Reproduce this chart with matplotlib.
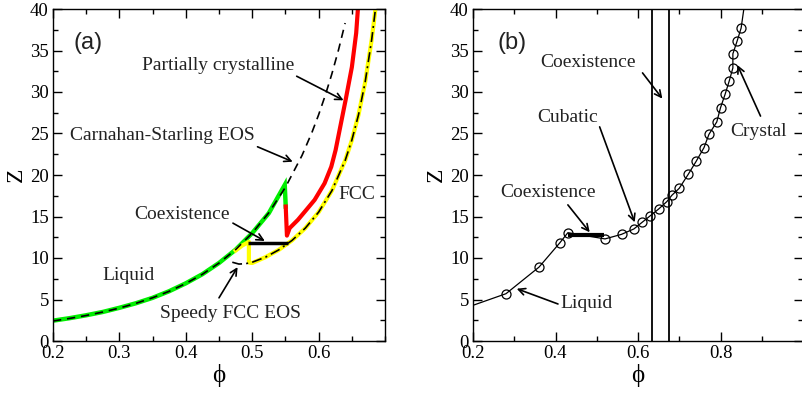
import matplotlib
matplotlib.use("Agg")
import numpy as np
import matplotlib.pyplot as plt
from matplotlib.ticker import MultipleLocator

# ---- panel (a) data ----
# Carnahan-Starling EOS (dashed)
cs_phi = [0.2, 0.225, 0.25, 0.275, 0.3, 0.325, 0.35, 0.375, 0.4, 0.425, 0.45, 0.475,
          0.5, 0.525, 0.55, 0.575, 0.59, 0.6, 0.61, 0.62, 0.63, 0.64]
cs_z = [2.41, 2.72, 3.07, 3.49, 3.97, 4.54, 5.21, 5.99, 6.93, 8.04, 9.39, 11.01,
        13.0, 15.45, 18.51, 22.35, 25.14, 27.25, 29.59, 32.19, 35.08, 38.31]

# simulated liquid branch (green)
liq_phi = [0.2, 0.225, 0.25, 0.275, 0.3, 0.325, 0.35, 0.375, 0.4, 0.425, 0.45, 0.475,
           0.5, 0.525, 0.549, 0.5505]
liq_z = [2.45, 2.75, 3.1, 3.5, 4.0, 4.55, 5.2, 6.0, 6.95, 8.05, 9.4, 11.0,
         13.0, 15.4, 18.8, 16.2]

# partially crystalline branch (red)
part_phi = [0.5505, 0.5523, 0.5564, 0.5689, 0.5815, 0.594, 0.609, 0.6191, 0.6256,
            0.6306, 0.6406, 0.6501, 0.6566, 0.6591, 0.6598]
part_z = [16.2, 12.7, 13.6, 14.6, 15.8, 17.0, 19.0, 21.0, 23.0,
          25.0, 29.0, 33.0, 37.1, 39.9, 40.5]

# FCC branch (yellow)
fcc_phi = [0.475, 0.485, 0.495, 0.495, 0.5, 0.52, 0.54, 0.56, 0.58, 0.6, 0.62, 0.64,
           0.65, 0.66, 0.67, 0.68, 0.685, 0.687]
fcc_z = [10.9, 11.5, 11.95, 9.45, 9.4, 10.1, 10.98, 12.12, 13.6, 15.52, 18.11, 21.75,
         24.18, 27.22, 31.13, 36.33, 39.6, 41.1]

# Speedy FCC EOS (dash-dot)
sp_phi = [0.47, 0.48, 0.49, 0.5, 0.52, 0.54, 0.56, 0.58, 0.6, 0.62, 0.64, 0.65, 0.66,
          0.67, 0.68, 0.685, 0.687]
sp_z = [9.49, 9.27, 9.31, 9.49, 10.1, 10.98, 12.12, 13.6, 15.52, 18.11, 21.75, 24.18,
        27.22, 31.13, 36.33, 39.6, 41.1]

coex_a_phi = [0.493, 0.554]
coex_a_z = [11.77, 11.77]

# ---- panel (b) data ----
b_phi = [0.2, 0.28, 0.36, 0.41, 0.43, 0.52, 0.56, 0.59, 0.61, 0.63, 0.65, 0.67, 0.682,
         0.70, 0.722, 0.741, 0.76, 0.772, 0.791, 0.80, 0.811, 0.821, 0.83, 0.83, 0.84,
         0.85, 0.858]
b_z = [4.3, 5.7, 8.9, 11.8, 13.05, 12.3, 12.85, 13.5, 14.3, 15.1, 15.9, 16.8, 17.55,
       18.4, 20.1, 21.65, 23.3, 24.9, 26.4, 28.1, 29.7, 31.3, 32.9, 34.6, 36.1, 37.7, 40.5]
coex_b_phi = [0.43, 0.518]
coex_b_z = [12.75, 12.75]
coex_vlines = [0.635, 0.674]

serif = ["Liberation Serif", "DejaVu Serif"]
sans = "Liberation Sans"

fig = plt.figure(figsize=(8.02, 3.94), dpi=100)
ax1 = fig.add_axes([53 / 802, 53 / 394, 332 / 802, 332 / 394])
ax2 = fig.add_axes([473 / 802, 53 / 394, 330 / 802, 332 / 394])


def style_axes(ax, xlim, xmaj, xmin):
    ax.set_xlim(*xlim)
    ax.set_ylim(0, 40)
    ax.xaxis.set_major_locator(MultipleLocator(xmaj))
    ax.xaxis.set_minor_locator(MultipleLocator(xmin))
    ax.yaxis.set_major_locator(MultipleLocator(5))
    ax.yaxis.set_minor_locator(MultipleLocator(2.5))
    ax.tick_params(which="both", direction="in", top=True, right=True, width=1.0,
                   labelsize=13.5, pad=3)
    ax.tick_params(which="major", length=6.5)
    ax.tick_params(which="minor", length=3.4)
    for sp in ax.spines.values():
        sp.set_linewidth(1.0)
    ax.set_xlabel("\u03d5", fontfamily=serif, fontsize=18, labelpad=1)
    ax.set_ylabel("Z", fontfamily=serif, fontsize=17, labelpad=2)


def serif_ticks(ax):
    for lab in ax.get_xticklabels() + ax.get_yticklabels():
        lab.set_fontfamily(serif)


arrow = dict(arrowstyle="->", color="black", lw=1.2, shrinkA=0, shrinkB=0,
             mutation_scale=12)
txt = dict(fontfamily=serif, fontsize=14, ha="center", va="center", color="#222222")

# ---- panel (a) ----
ax = ax1
ax.plot(liq_phi, liq_z, color="#00ee00", lw=3.2, solid_joinstyle="miter")
ax.plot(part_phi, part_z, color="#ff0000", lw=3.0)
ax.plot(fcc_phi, fcc_z, color="#ffff00", lw=3.0)
ax.plot(cs_phi, cs_z, color="black", lw=1.2, dashes=(5, 3.5))
ax.plot(sp_phi, sp_z, color="black", lw=1.2, dashes=(6, 2.5, 1.2, 2.5))
ax.plot(coex_a_phi, coex_a_z, color="black", lw=2.5, solid_capstyle="butt")
style_axes(ax, (0.2, 0.7), 0.1, 0.05)
ax.set_xticks([0.2, 0.3, 0.4, 0.5, 0.6])
serif_ticks(ax)

ax.text(0.2526, 35.9, "(a)", fontfamily=sans, fontsize=17, ha="center", va="center",
        color="#222222")
ax.annotate("", xy=(0.6376, 29.0), xytext=(0.567, 31.9), arrowprops=arrow)
ax.text(0.448, 33.25, "Partially crystalline", **txt)
ax.annotate("", xy=(0.561, 21.6), xytext=(0.508, 23.4), arrowprops=arrow)
ax.text(0.364, 24.7, "Carnahan-Starling EOS", **txt)
ax.text(0.657, 17.6, "FCC", **txt)
ax.annotate("", xy=(0.519, 12.05), xytext=(0.471, 14.2), arrowprops=arrow)
ax.text(0.394, 15.2, "Coexistence", **txt)
ax.text(0.313, 7.95, "Liquid", **txt)
ax.annotate("", xy=(0.478, 8.9), xytext=(0.45, 5.2), arrowprops=arrow)
ax.text(0.468, 3.37, "Speedy FCC EOS", **txt)

# ---- panel (b) ----
ax = ax2
for v in coex_vlines:
    ax.axvline(v, color="black", lw=1.3)
ax.plot(b_phi, b_z, color="black", lw=0.9, marker="o", markersize=6.5,
        markerfacecolor="none", markeredgewidth=0.9,
        markevery=list(range(1, len(b_phi) - 1)))
ax.plot(coex_b_phi, coex_b_z, color="black", lw=3.0, solid_capstyle="butt")
style_axes(ax, (0.2, 1.0), 0.2, 0.1)
ax.set_xticks([0.2, 0.4, 0.6, 0.8])
serif_ticks(ax)

ax.text(0.294, 35.9, "(b)", fontfamily=sans, fontsize=17, ha="center", va="center",
        color="#222222")
ax.annotate("", xy=(0.659, 29.2), xytext=(0.611, 32.3), arrowprops=arrow)
ax.text(0.478, 33.5, "Coexistence", **txt)
ax.annotate("", xy=(0.592, 14.3), xytext=(0.507, 25.8), arrowprops=arrow)
ax.text(0.430, 26.9, "Cubatic", **txt)
ax.annotate("", xy=(0.841, 33.25), xytext=(0.897, 27.1), arrowprops=arrow)
ax.text(0.892, 25.2, "Crystal", **txt)
ax.annotate("", xy=(0.483, 13.1), xytext=(0.430, 16.4), arrowprops=arrow)
ax.text(0.381, 17.95, "Coexistence", **txt)
ax.annotate("", xy=(0.306, 6.3), xytext=(0.406, 4.46), arrowprops=arrow)
ax.text(0.476, 4.46, "Liquid", **txt)

fig.savefig("out.png", dpi=100)
